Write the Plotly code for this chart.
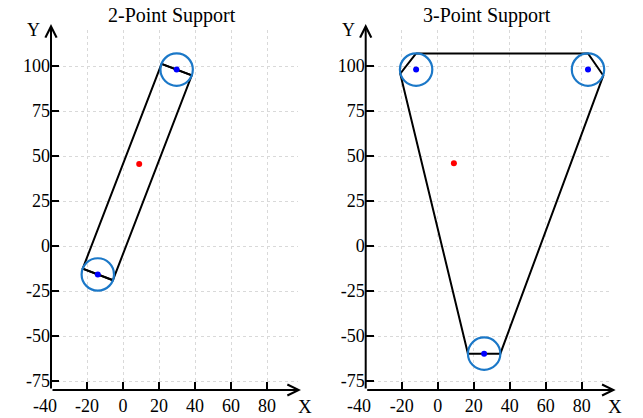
import plotly.graph_objects as go

OFF = 8                       # page body margin of the html page
W, H = 643 - OFF, 418 - OFF   # figure size so that figure + margin fills the window
FONT = "Liberation Serif"

# ---- data ----
titles = ["2-Point Support", "3-Point Support"]
x_ticks = [-40, -20, 0, 20, 40, 60, 80]
x_tick_text = ["", "-20", "0", "20", "40", "60", "80"]
y_ticks = [-75, -50, -25, 0, 25, 50, 75, 100]
y_tick_text = ["-75", "-50", "-25", "0", "25", "50", "75", "100"]
radius = 9

# 2-point support
two_cx = [29.8, -14.0]
two_cy = [98.0, -15.8]
two_out_x = [21.4, 38.2, -5.6, -22.4, 21.4]
two_out_y = [101.2, 94.8, -19.0, -12.6, 101.2]
two_chord_x = [[21.4, 38.2], [-22.4, -5.6]]
two_chord_y = [[101.2, 94.8], [-12.6, -19.0]]

# 3-point support
three_cx = [-12.0, 83.5, 25.8]
three_cy = [98.0, 98.0, -59.8]
three_out_x = [-12.0, 83.5, 92.0, 34.8, 16.8, -20.8, -12.0]
three_out_y = [107.0, 107.0, 94.7, -59.8, -59.8, 95.7, 107.0]

cog_x = [9.0, 9.0]
cog_y = [45.5, 46.0]

x_range = [-40, 97]
y_range = [-80, 120]

# ---- layout geometry (reference window pixels) ----
left_px = [51, 365.7]
plot_w = 137 * 1.8
top_px, bot_px = 30, 390


def fx(px):
    return (px - OFF) / W


def fy(py):
    return (H - (py - OFF)) / H


fig = go.Figure()
axes_names = [("x", "y"), ("x2", "y2")]


def add_panel(i, cx, cy, ox, oy, chords=None):
    xa, ya = axes_names[i]
    fig.add_trace(go.Scatter(x=ox, y=oy, mode="lines", xaxis=xa, yaxis=ya,
                             line=dict(color="black", width=2), showlegend=False,
                             hoverinfo="skip"))
    if chords:
        for chx, chy in zip(*chords):
            fig.add_trace(go.Scatter(x=chx, y=chy, mode="lines", xaxis=xa, yaxis=ya,
                                     line=dict(color="black", width=2), showlegend=False,
                                     hoverinfo="skip"))
    for x0, y0 in zip(cx, cy):
        fig.add_shape(type="circle", xref=xa, yref=ya,
                      x0=x0 - radius, x1=x0 + radius, y0=y0 - radius, y1=y0 + radius,
                      line=dict(color="#1b78c8", width=2.2))
    fig.add_trace(go.Scatter(x=cx, y=cy, mode="markers", xaxis=xa, yaxis=ya,
                             marker=dict(color="#0000ff", size=6), showlegend=False))
    fig.add_trace(go.Scatter(x=[cog_x[i]], y=[cog_y[i]], mode="markers", xaxis=xa, yaxis=ya,
                             marker=dict(color="#ff0000", size=6), showlegend=False))


add_panel(0, two_cx, two_cy, two_out_x, two_out_y, (two_chord_x, two_chord_y))
add_panel(1, three_cx, three_cy, three_out_x, three_out_y)

ydom = [fy(bot_px), fy(top_px)]
axis_common = dict(
    showline=False, zeroline=False, showgrid=True, griddash="dot",
    gridcolor="#d9d9d9", gridwidth=1, automargin=False,
    ticks="inside", ticklen=8, tickwidth=2, tickcolor="black",
    tickfont=dict(family=FONT, size=18, color="black"),
)
layout = dict(
    template="none",
    width=W, height=H, margin=dict(l=0, r=0, t=0, b=0, pad=0), autosize=False,
    plot_bgcolor="white", paper_bgcolor="white", showlegend=False,
    font=dict(family=FONT, color="black"),
)
for i, (xa, ya) in enumerate(axes_names):
    xd = [fx(left_px[i]), fx(left_px[i] + plot_w)]
    xkey = "xaxis" if i == 0 else "xaxis2"
    ykey = "yaxis" if i == 0 else "yaxis2"
    layout[xkey] = dict(axis_common, domain=xd, range=x_range, tickvals=x_ticks,
                        ticktext=x_tick_text, ticklabelstandoff=3,
                        anchor=ya, fixedrange=True)
    layout[ykey] = dict(axis_common, domain=ydom, range=y_range, tickvals=y_ticks,
                        ticktext=y_tick_text, anchor=xa, fixedrange=True)
fig.update_layout(**layout)

label_x = [305, 615]
ann = []
for i, (xa, ya) in enumerate(axes_names):
    x0 = left_px[i]
    # x axis arrow
    ann.append(dict(xref="paper", yref="paper", x=fx(x0 + 250), y=fy(bot_px),
                    ax=-250, ay=0, text="", showarrow=True, arrowhead=5,
                    arrowsize=1.1, arrowwidth=2, arrowcolor="black", standoff=0))
    # y axis arrow
    ann.append(dict(xref="paper", yref="paper", x=fx(x0), y=fy(24),
                    ax=0, ay=bot_px - 24, text="", showarrow=True, arrowhead=5,
                    arrowsize=1.1, arrowwidth=2, arrowcolor="black", standoff=0))
    ann.append(dict(xref="paper", yref="paper", x=fx(x0 - 17.5), y=fy(30),
                    text="Y", showarrow=False, font=dict(family=FONT, size=18, color="black"),
                    xanchor="center", yanchor="middle"))
    ann.append(dict(xref="paper", yref="paper", x=fx(label_x[i]), y=fy(406),
                    text="X", showarrow=False, font=dict(family=FONT, size=19, color="black"),
                    xanchor="center", yanchor="middle"))
    ann.append(dict(xref="paper", yref="paper", x=fx(x0 - 6.5), y=fy(406),
                    text="-40", showarrow=False, font=dict(family=FONT, size=18, color="black"),
                    xanchor="center", yanchor="middle"))
    ann.append(dict(xref="paper", yref="paper", x=fx(x0 + 121), y=fy(15),
                    text=titles[i], showarrow=False,
                    font=dict(family=FONT, size=20, color="black"),
                    xanchor="center", yanchor="middle"))
fig.update_layout(annotations=ann)

fig.write_html("out.html")
